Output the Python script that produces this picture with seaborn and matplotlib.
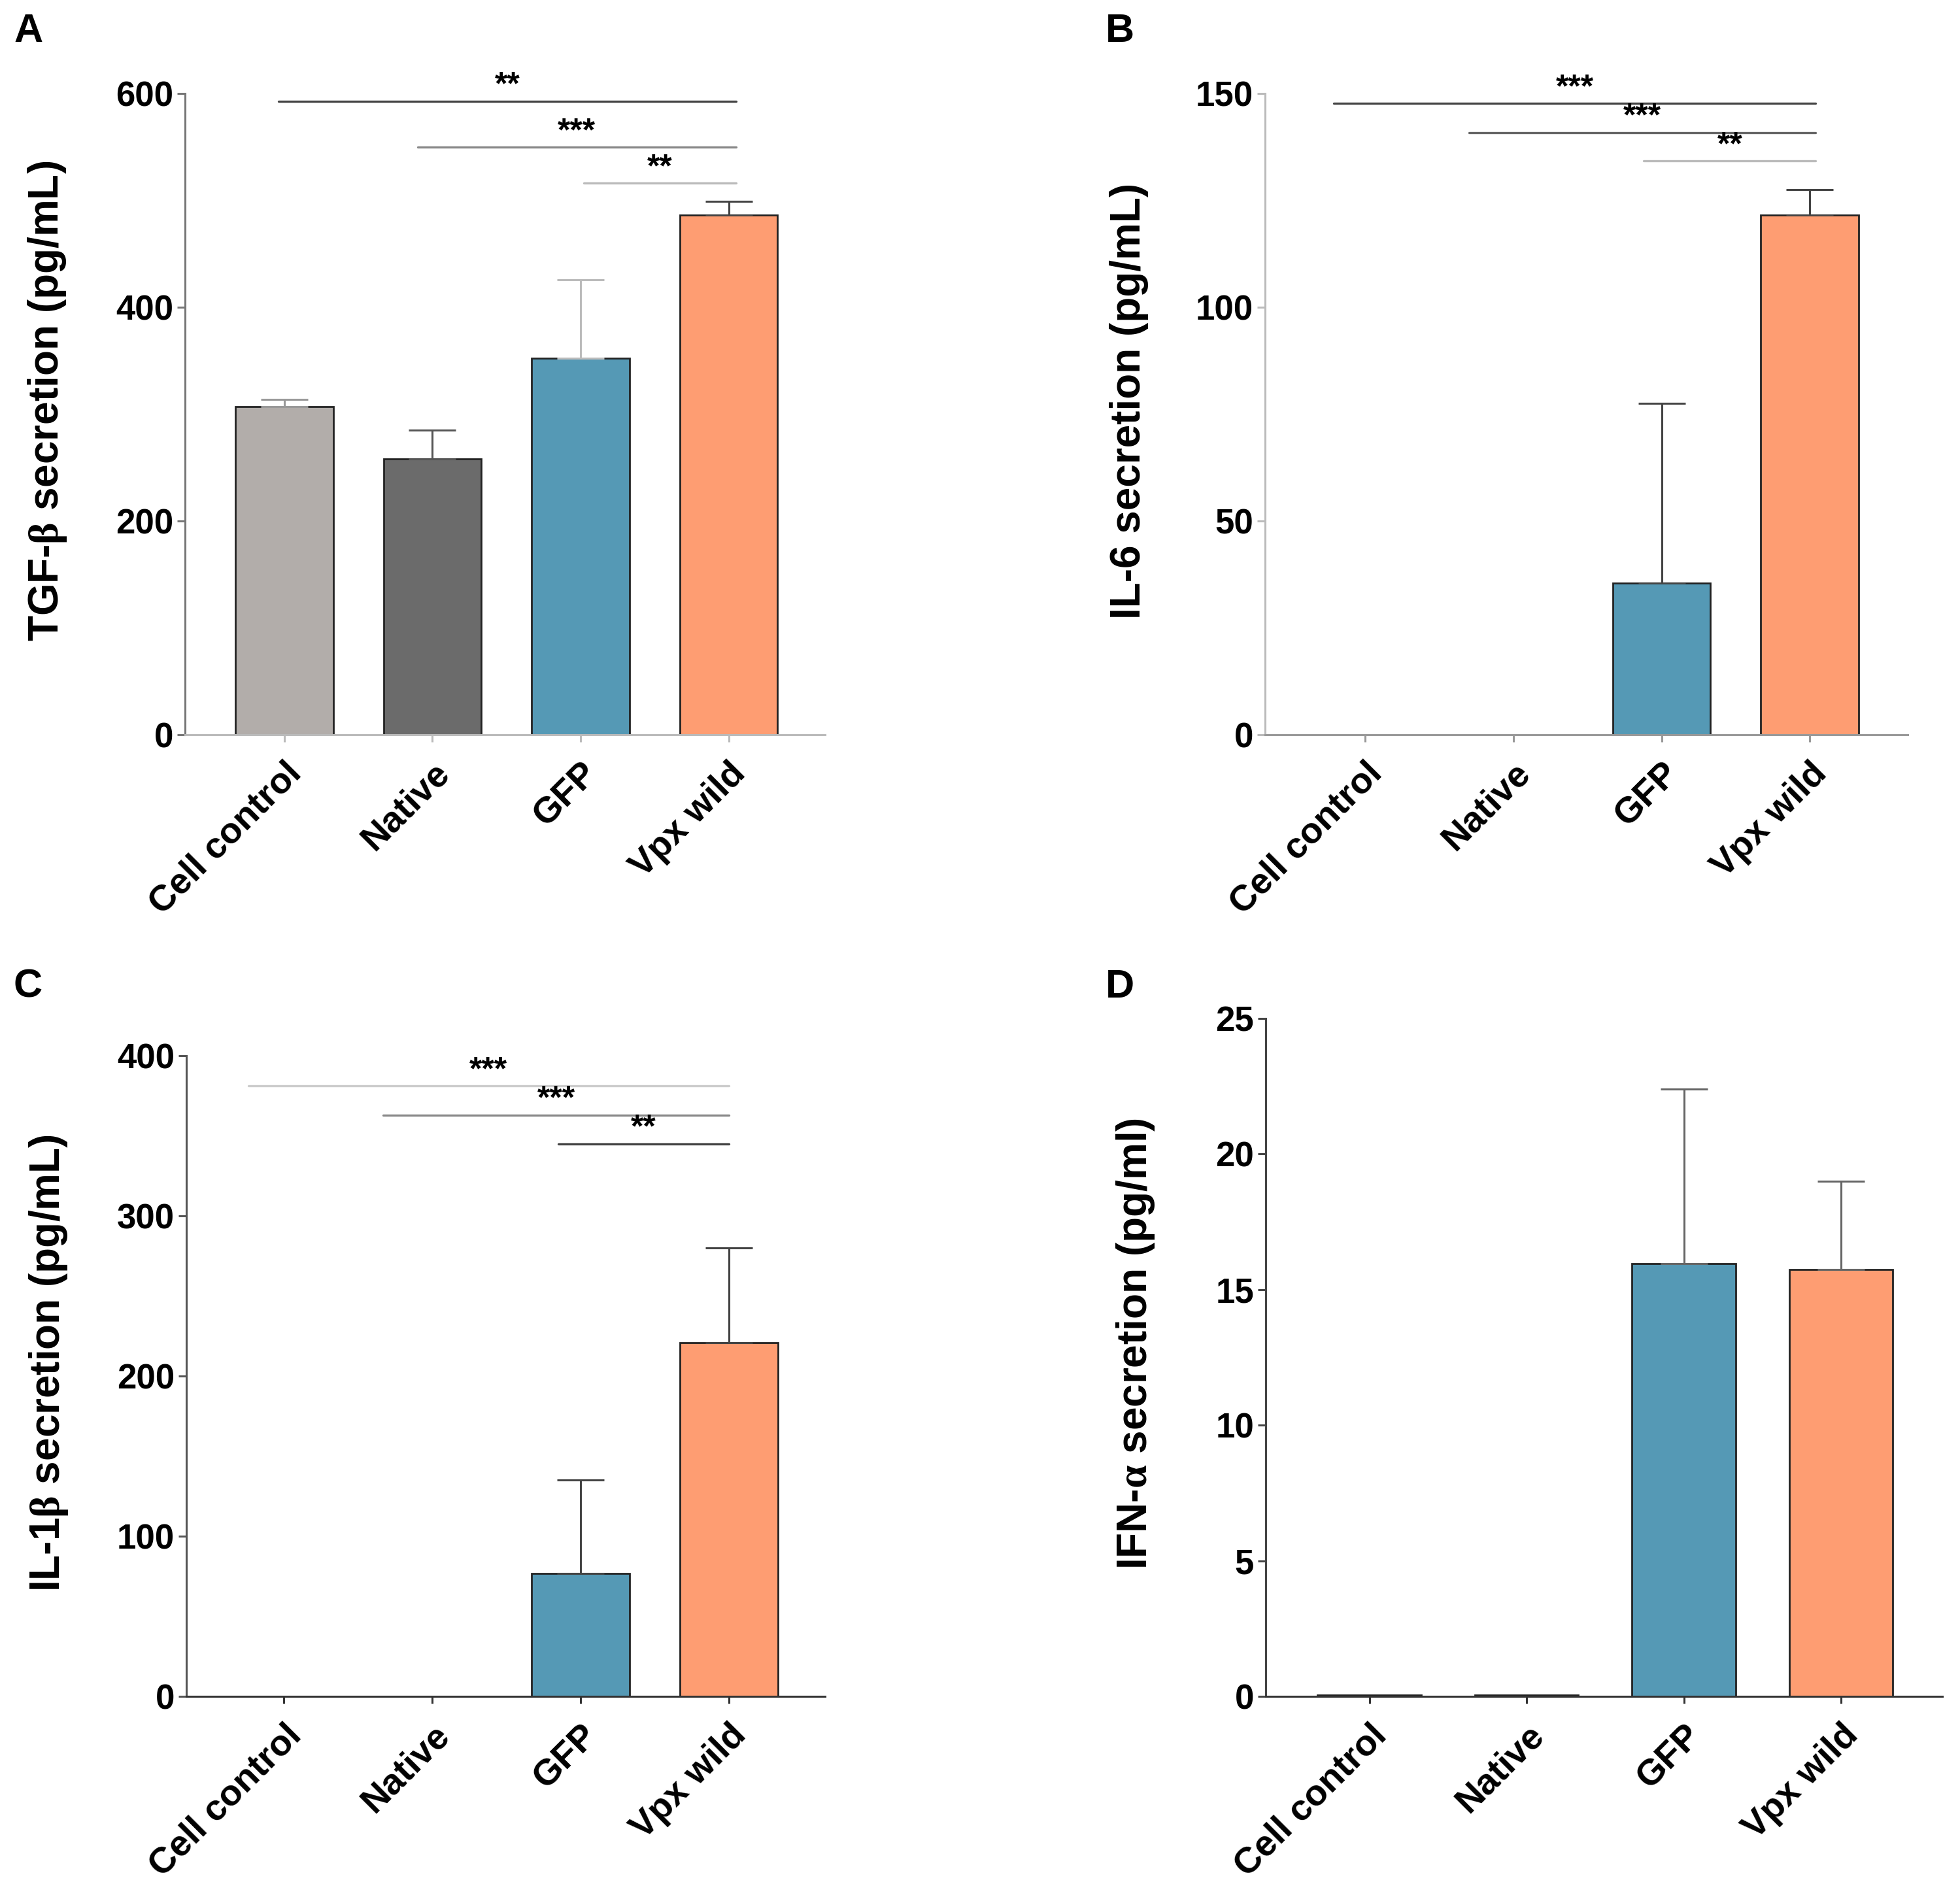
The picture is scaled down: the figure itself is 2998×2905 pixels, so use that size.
import matplotlib
matplotlib.use('Agg')
import matplotlib.pyplot as plt
import matplotlib.transforms as mtransforms
import seaborn as sns
import numpy as np
import pandas as pd

# データ
groups = ['Cell control', 'Native', 'GFP', 'Vpx wild']
colors = ['#b2adaa', '#6b6b6b', '#5599b5', '#fe9d72']

tgf_mean = [307, 258, 352, 486]
tgf_sd = [7, 27, 74, 13]
il6_mean = [0, 0, 35.5, 121.5]
il6_sd = [0, 0, 42, 6]
il1_mean = [0, 0, 77, 221]
il1_sd = [0, 0, 58, 59]
ifn_mean = [0.05, 0.06, 15.95, 15.75]
ifn_sd = [0, 0, 6.45, 3.25]

# 有意差バー: (開始x, 終了x, y, ラベル, 色)
tgf_sig = [(-0.04, 3.05, 593, '**', '#444444'),
           (0.90, 3.05, 550, '***', '#888888'),
           (2.02, 3.05, 516, '**', '#bbbbbb')]
il6_sig = [(-0.21, 3.04, 147.7, '***', '#444444'),
           (0.70, 3.04, 140.9, '***', '#666666'),
           (1.88, 3.04, 134.2, '**', '#bbbbbb')]
il1_sig = [(-0.24, 3.00, 381, '***', '#cccccc'),
           (0.67, 3.00, 363, '***', '#888888'),
           (1.85, 3.00, 345, '**', '#444444')]

sns.set_theme(style='ticks')
plt.rcParams['font.family'] = ['Liberation Sans', 'DejaVu Sans']
plt.rcParams['font.weight'] = 'bold'
plt.rcParams['text.color'] = 'black'
plt.rcParams['axes.labelcolor'] = 'black'
# ギリシャ文字は立体のセリフ体で
plt.rcParams['mathtext.fontset'] = 'custom'
plt.rcParams['mathtext.rm'] = 'Liberation Serif'
plt.rcParams['mathtext.it'] = 'Liberation Serif'
plt.rcParams['mathtext.bf'] = 'Liberation Serif'

fig = plt.figure(figsize=(14.99, 14.525), dpi=200)

# (文字, 軸の位置, 平均, SD, 有意差, y軸ラベル, y目盛, x範囲, 文字位置, ラベルx, 左軸色, 下軸色, エラーバー色)
panels = [
    ('A', [0.0944, 0.6132, 0.3265, 0.3375], tgf_mean, tgf_sd, tgf_sig,
     r'TGF-$\beta$ secretion (pg/mL)', [0, 200, 400, 600], (-0.67, 3.65),
     (0.007, 0.993), -0.215, '#777777', '#bbbbbb', ['#999999', '#555555', '#bbbbbb', '#444444']),
    ('B', [0.6454, 0.6132, 0.3279, 0.3375], il6_mean, il6_sd, il6_sig,
     'IL-6 secretion (pg/mL)', [0, 50, 100, 150], (-0.675, 3.66),
     (0.564, 0.993), -0.212, '#bbbbbb', '#999999', ['#444444'] * 4),
    ('C', [0.0950, 0.1066, 0.3260, 0.3375], il1_mean, il1_sd, il1_sig,
     r'IL-1$\beta$ secretion (pg/mL)', [0, 100, 200, 300, 400], (-0.66, 3.65),
     (0.007, 0.49), -0.215, '#555555', '#333333', ['#444444'] * 4),
    ('D', [0.6458, 0.1066, 0.3452, 0.3572], ifn_mean, ifn_sd, [],
     r'IFN-$\alpha$ secretion (pg/ml)', [0, 5, 10, 15, 20, 25], (-0.66, 3.645),
     (0.564, 0.49), -0.192, '#444444', '#333333', ['#666666'] * 4),
]

for (letter, rect, mean, sd, sig, ylabel, yticks, xlim, lpos, labx,
     lcol, bcol, ecol) in panels:
    ax = fig.add_axes(rect)
    df = pd.DataFrame({'group': groups, 'value': mean})
    sns.barplot(data=df, x='group', y='value', hue='group', palette=colors,
                saturation=1, width=0.66, edgecolor='#222222', linewidth=1.0,
                legend=False, ax=ax)
    x = np.arange(len(groups))
    for i in range(len(groups)):
        if sd[i] > 0:
            ax.errorbar(x[i], mean[i], yerr=[[0], [sd[i]]], fmt='none',
                        ecolor=ecol[i], elinewidth=1.1, capsize=13, capthick=1.1)
    for x1, x2, y, label, c in sig:
        ax.plot([x1, x2], [y, y], color=c, lw=1.2, clip_on=False)
        ax.text((x1 + x2) / 2, y, label, ha='center', va='bottom',
                fontsize=18, fontweight='bold', color='black')
    ax.set_xlim(*xlim)
    ax.set_ylim(0, yticks[-1])
    ax.set_yticks(yticks)
    ax.set_xlabel('')
    ax.set_ylabel(ylabel, fontsize=23, fontweight='bold')
    ax.yaxis.set_label_coords(labx, 0.52)
    ax.yaxis.label.set_verticalalignment('center')
    ax.set_xticks(x)
    ax.set_xticklabels(groups, rotation=45, ha='right', rotation_mode='anchor',
                       fontsize=20, fontweight='bold', color='black')
    # 目盛ラベルを少し左上へずらす
    shift = mtransforms.ScaledTranslation(-5 / 72, 2 / 72, fig.dpi_scale_trans)
    for lab in ax.get_xticklabels():
        lab.set_transform(lab.get_transform() + shift)
    ax.tick_params(axis='y', labelsize=19, length=4.5, width=1.1, color=lcol,
                   labelcolor='black', pad=2)
    ax.tick_params(axis='x', length=4, width=1.1, color=bcol, labelcolor='black', pad=8)
    for lab in ax.get_yticklabels():
        lab.set_fontweight('bold')
    sns.despine(ax=ax)
    ax.spines['left'].set_color(lcol)
    ax.spines['bottom'].set_color(bcol)
    for s in ['left', 'bottom']:
        ax.spines[s].set_linewidth(1.1)
    fig.text(lpos[0], lpos[1], letter, fontsize=22, fontweight='bold', va='top')

fig.savefig('out.png', dpi=200)
